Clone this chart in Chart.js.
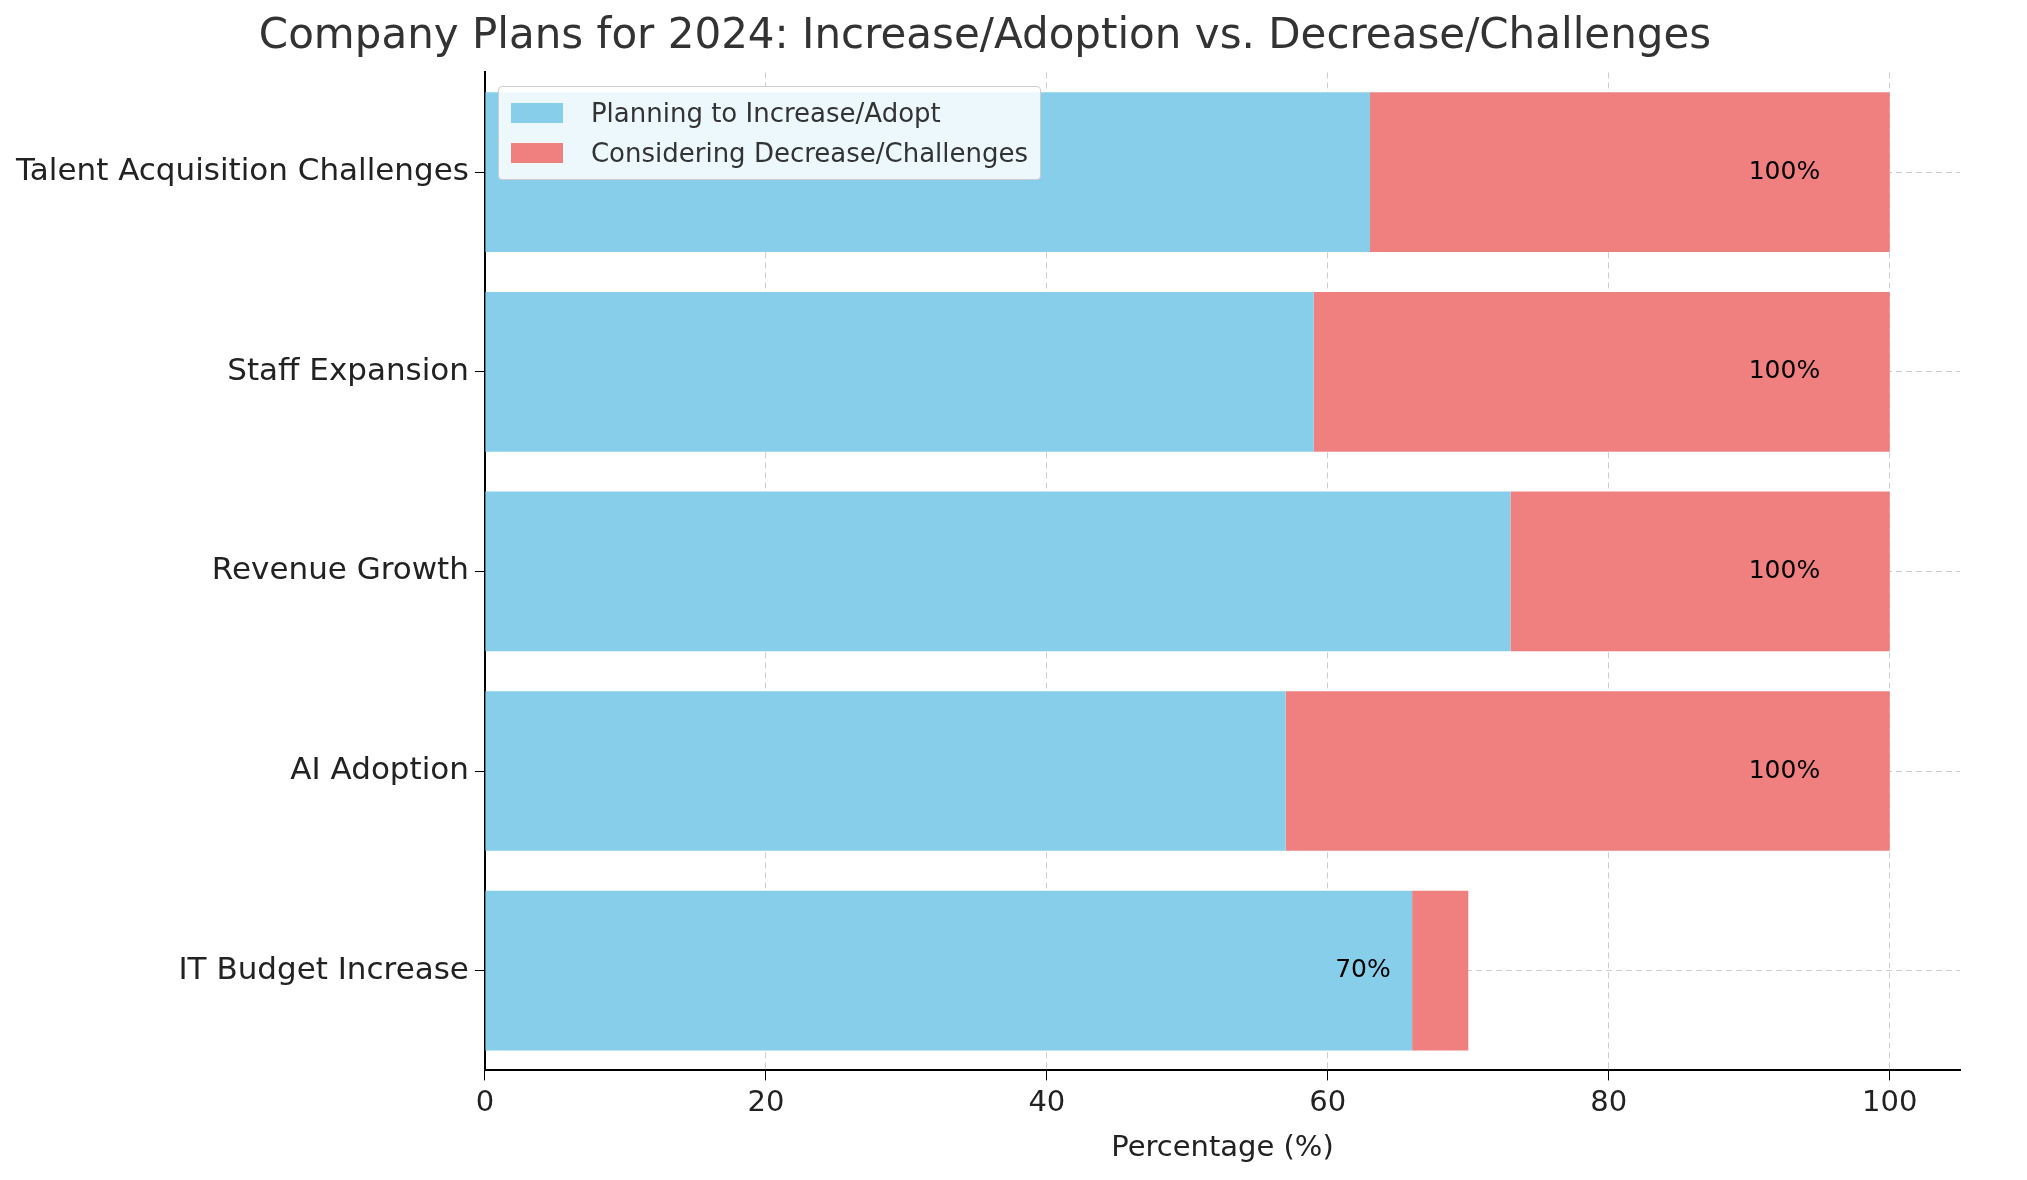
<!DOCTYPE html>
<html>
<head>
<meta charset="utf-8">
<script src="https://cdn.jsdelivr.net/npm/chart.js@4"></script>
<style>
  body { margin: 0; background: #fff; font-family: "DejaVu Sans", sans-serif; }
  #wrap { position: relative; width: 2027px; height: 1180px; }
  #legend { position: absolute; left: 531px; top: 86px; background: rgba(255,255,255,0.85);
    border: 1px solid #ccc; border-radius: 4px; padding: 6px 12px; font-size: 26px; color: #333; }
  #legend div { display: flex; align-items: center; height: 40px; }
  #legend span { display: inline-block; width: 52px; height: 20px; margin-right: 28px; }
</style>
</head>
<body>
<div id="wrap">
  <canvas id="chart" width="2027" height="1180"></canvas>
  <div id="legend">
    <div><span style="background:#87ceeb"></span>Planning to Increase/Adopt</div>
    <div><span style="background:#f08080"></span>Considering Decrease/Challenges</div>
  </div>
</div>
<script>
const categories = ['Talent Acquisition Challenges', 'Staff Expansion', 'Revenue Growth', 'AI Adoption', 'IT Budget Increase'];
const increaseValues = [63, 59, 73, 57, 66];
const decreaseValues = [37, 41, 27, 43, 4];
const xTicks = [0, 20, 40, 60, 80, 100];

const totalLabels = {
  id: 'totalLabels',
  afterDatasetsDraw(chart) {
    const ctx = chart.ctx;
    const x = chart.scales.x, y = chart.scales.y;
    ctx.save();
    ctx.font = '25px "DejaVu Sans"';
    ctx.fillStyle = '#000';
    ctx.textAlign = 'center';
    ctx.textBaseline = 'middle';
    categories.forEach(function (c, i) {
      const total = increaseValues[i] + decreaseValues[i];
      ctx.fillText(total + '%', x.getPixelForValue(total - 7.5), y.getPixelForValue(i));
    });
    ctx.restore();
  }
};

const ctx = document.getElementById('chart').getContext('2d');
const chart = new Chart(ctx, {
  type: 'bar',
  data: {
    labels: categories,
    datasets: [{
      label: 'Planning to Increase/Adopt',
      data: increaseValues,
      backgroundColor: '#87ceeb',
      categoryPercentage: 0.8,
      barPercentage: 1
    }, {
      label: 'Considering Decrease/Challenges',
      data: decreaseValues,
      backgroundColor: '#f08080',
      categoryPercentage: 0.8,
      barPercentage: 1
    }]
  },
  options: {
    indexAxis: 'y',
    responsive: false,
    animation: false,
    layout: { padding: { left: 10, right: 67, top: 8, bottom: 10 } },
    plugins: {
      legend: { display: false },
      tooltip: { enabled: false },
      title: {
        display: true,
        text: 'Company Plans for 2024: Increase/Adoption vs. Decrease/Challenges',
        color: '#333',
        font: { family: 'DejaVu Sans', size: 42, weight: 'normal' },
        padding: { top: 4, bottom: 10 }
      }
    },
    scales: {
      x: {
        stacked: true,
        min: 0, max: 105,
        afterBuildTicks(axis) { axis.ticks = xTicks.map(v => ({ value: v })); },
        grid: { color: '#ccc', tickColor: '#000', tickLength: 10 },
        border: { color: '#000', width: 2, dash: [6, 4] },
        ticks: { color: '#222', font: { family: 'DejaVu Sans', size: 29 }, padding: 6 },
        title: { display: true, text: 'Percentage (%)', color: '#222', font: { family: 'DejaVu Sans', size: 29 } }
      },
      y: {
        stacked: true,
        grid: { color: '#ccc', offset: false, tickColor: '#000', tickLength: 10 },
        border: { color: '#000', width: 2, dash: [6, 4] },
        ticks: { color: '#222', font: { family: 'DejaVu Sans', size: 31 }, padding: 6 }
      }
    }
  },
  plugins: [totalLabels]
});
document.getElementById('legend').style.left = (chart.chartArea.left + 13) + 'px';
</script>
</body>
</html>
